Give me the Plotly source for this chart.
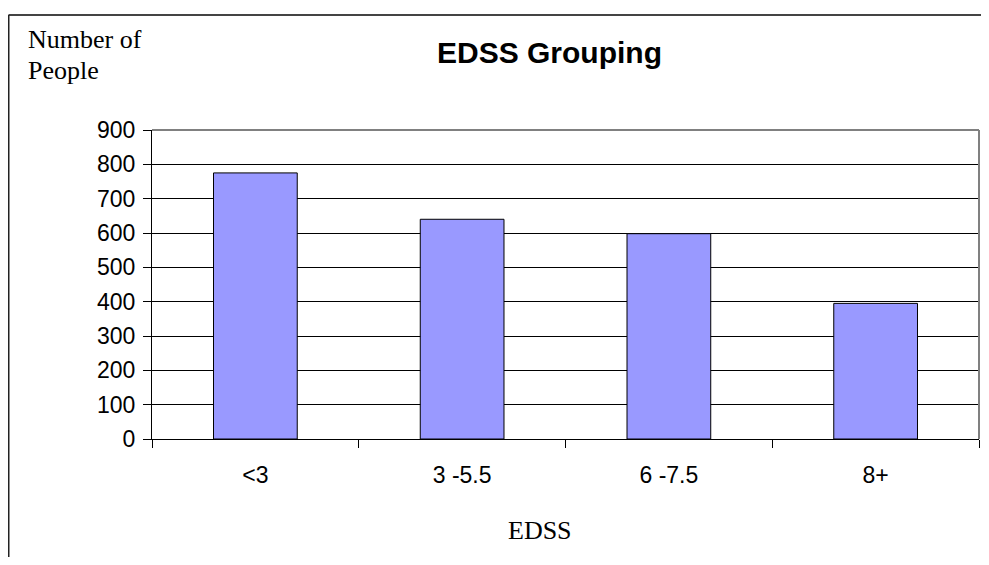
import plotly.graph_objects as go

categories = ["<3", "3 -5.5", "6 -7.5", "8+"]
values = [775, 640, 598, 395]
y_ticks = [0, 100, 200, 300, 400, 500, 600, 700, 800, 900]

# page has an 8px body margin; work in figure pixel coords
OFF = 8
W, H = 989 - OFF, 565 - 2 * OFF
L, R, T = 144, 10, 122
B = H - 431
pw = W - L - R
ph = H - T - B

def px_x(px):
    return (px - OFF - L) / pw

def px_y(py):
    return (H - B - (py - OFF)) / ph

fig = go.Figure()
fig.add_trace(go.Bar(
    x=categories, y=values,
    marker=dict(color="#9999FF", line=dict(color="#000000", width=1)),
    width=0.405,
))

fig.update_layout(
    width=W, height=H,
    margin=dict(l=L, r=R, t=T, b=B),
    paper_bgcolor="white", plot_bgcolor="white",
    showlegend=False,
    xaxis=dict(
        type="category", tickson="boundaries",
        ticks="outside", ticklen=8, tickcolor="black", tickwidth=1,
        showline=True, linecolor="black", linewidth=1,
        showgrid=False,
        ticklabelstandoff=15,
        tickfont=dict(family="Liberation Sans", size=23, color="black"),
    ),
    yaxis=dict(
        range=[0, 900], tickvals=y_ticks,
        ticks="outside", ticklen=8, tickcolor="black", tickwidth=1,
        showline=True, linecolor="black", linewidth=1,
        showgrid=True, gridcolor="#000000", gridwidth=1,
        zeroline=False,
        ticklabelstandoff=3,
        tickfont=dict(family="Liberation Sans", size=23, color="black"),
    ),
    shapes=[
        dict(type="line", xref="paper", yref="paper", x0=0, x1=1, y0=1, y1=1,
             line=dict(color="#808080", width=2)),
        dict(type="line", xref="paper", yref="paper", x0=1, x1=1, y0=0, y1=1,
             line=dict(color="#808080", width=2)),
        dict(type="line", xref="paper", yref="paper", x0=px_x(8.5), x1=px_x(995), y0=px_y(15), y1=px_y(15),
             line=dict(color="#444444", width=2)),
        dict(type="line", xref="paper", yref="paper", x0=px_x(8.5), x1=px_x(8.5), y0=px_y(15), y1=px_y(570),
             line=dict(color="#222222", width=2)),
    ],
    annotations=[
        dict(text="<b>EDSS Grouping</b>", xref="paper", yref="paper",
             x=px_x(549), y=px_y(53), xanchor="center", yanchor="middle",
             showarrow=False,
             font=dict(family="Liberation Sans", size=30, color="black")),
        dict(text="Number of", xref="paper", yref="paper",
             x=px_x(26), y=px_y(40), xanchor="left", yanchor="middle",
             showarrow=False,
             font=dict(family="Liberation Serif", size=26, color="black")),
        dict(text="People", xref="paper", yref="paper",
             x=px_x(26), y=px_y(71), xanchor="left", yanchor="middle",
             showarrow=False,
             font=dict(family="Liberation Serif", size=26, color="black")),
        dict(text="EDSS", xref="paper", yref="paper",
             x=px_x(539.5), y=px_y(530), xanchor="center", yanchor="middle",
             showarrow=False,
             font=dict(family="Liberation Serif", size=26, color="black")),
    ],
)

fig.write_html("out.html", default_width=f"{W}px", default_height=f"{H}px")
